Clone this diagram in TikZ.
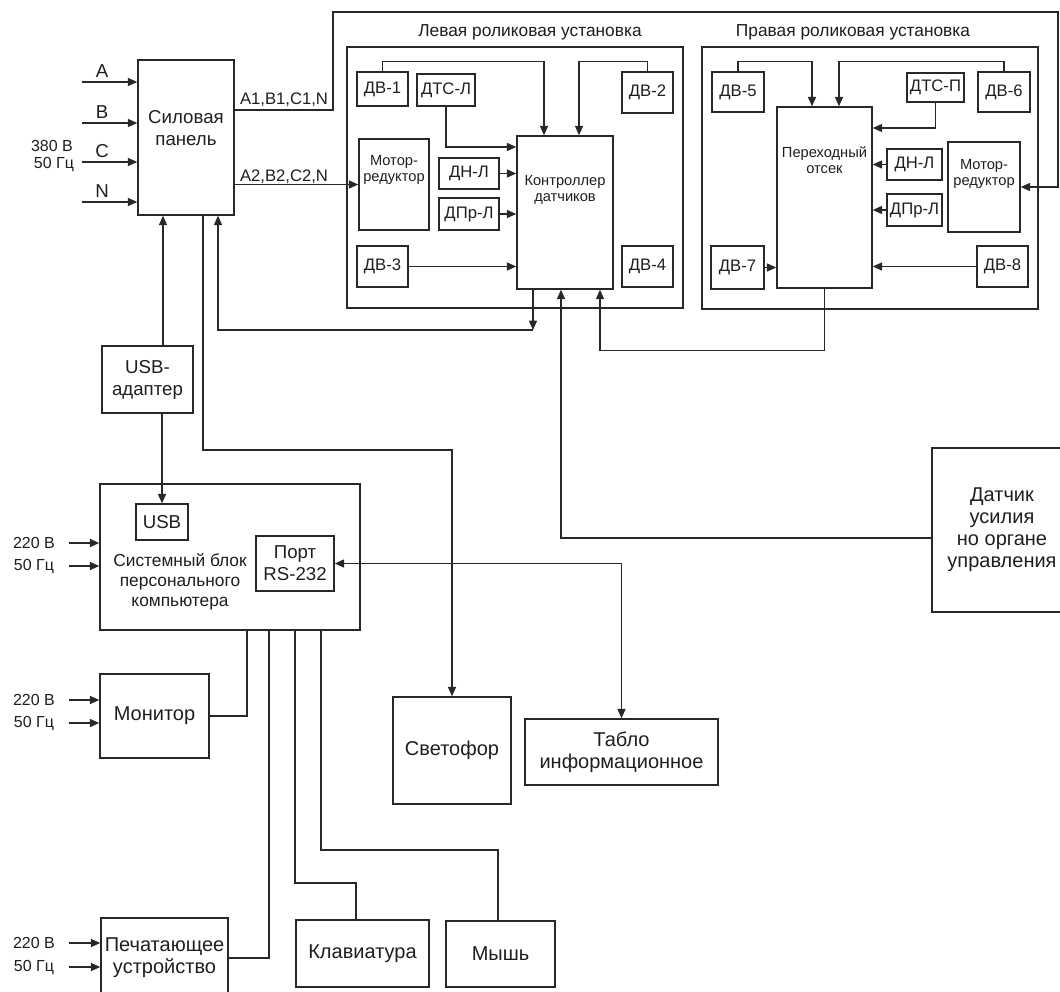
\documentclass[tikz,border=0pt]{standalone}
\usepackage{fontspec}
\setmainfont{Liberation Sans}
\usepackage{tikz}
\usetikzlibrary{arrows.meta,calc,positioning}
\definecolor{wiregrey}{RGB}{40,40,40}
\definecolor{textgrey}{RGB}{30,30,30}
\tikzset{
  blk/.style 2 args={draw=wiregrey,line width=1.1pt,inner sep=1pt,align=center,
    text=textgrey,minimum width=#1*0.75pt,minimum height=#2*0.75pt,
    font=\fontsize{14}{16.5}\selectfont},
  big/.style={font=\fontsize{15}{16.5}\selectfont},
  sensor/.style={font=\fontsize{12.5}{14}\selectfont},
  inner/.style={font=\fontsize{11}{12.5}\selectfont,align=center,inner sep=0pt,text=textgrey},
  systext/.style={font=\fontsize{13}{15}\selectfont,align=center,inner sep=0pt,text=textgrey},
  txt/.style={font=\fontsize{14}{16.5}\selectfont,align=center,inner sep=0pt,text=textgrey},
  title/.style={font=\fontsize{13}{15}\selectfont,inner sep=0pt,text=textgrey},
  mains/.style={font=\fontsize{12}{14}\selectfont,inner sep=0pt,text=textgrey},
  phase/.style={font=\fontsize{14}{16}\selectfont,inner sep=0pt,text=textgrey},
  bus/.style={font=\fontsize{12.5}{14}\selectfont,inner sep=0pt,text=textgrey},
  flow/.style={-{Triangle[length=7pt,width=6pt]},draw=wiregrey,line width=1.1pt},
  both/.style={{Triangle[length=7pt,width=6pt]}-{Triangle[length=7pt,width=6pt]},
    draw=wiregrey,line width=1.1pt},
  wire/.style={draw=wiregrey,line width=1.1pt}
}

\begin{document}
\begin{tikzpicture}[x=0.75pt,y=-0.75pt]
  \useasboundingbox (0,0) rectangle (1060,992);
  \clip (0,0) rectangle (1060,992);

  % power panel
  \node[blk={96}{155}] (silov) at (186,137.5) {};
  \node[txt] (silovtxt) at (186,128) {Силовая\\панель};
  \foreach \n/\y/\t in {inA/82/A,inB/123/B,inC/162/C,inN/202/N}{
    \coordinate (\n) at (82,\y);
    \draw[flow] (\n) -- (\n -| silov.west);
    \node[phase] (lbl\n) at ($(\n)+(20,-11)$) {\t};
  }
  \node[mains] (v380) at (52,146) {380 В};
  \node[mains] (f380) at (54,165) {50 Гц};
  \node[bus] (busone) at (284,100) {A1,B1,C1,N};
  \node[bus] (bustwo) at (284,177) {A2,B2,C2,N};

  % left roller unit
  \node[blk={336}{261}] (unitL) at (515,177.5) {};
  \node[title] (unitLtitle) at (530,32) {Левая роликовая установка};
  \node[blk={51}{34},sensor] (dv1) at (382.5,89) {ДВ-1};
  \node[blk={58}{32},sensor] (dtsL) at (446,90) {ДТС-Л};
  \node[blk={51}{41},sensor] (dv2) at (647.5,92.5) {ДВ-2};
  \node[blk={70}{91}] (motL) at (394,184.5) {};
  \node[inner] (motLtxt) at (394,170) {Мотор-\\редуктор};
  \node[blk={60}{31},sensor] (dnL) at (469,173.5) {ДН-Л};
  \node[blk={60}{32},sensor] (dprL) at (469,214) {ДПр-Л};
  \node[blk={96}{153}] (ctrl) at (565,212.5) {};
  \node[inner] (ctrltxt) at (565,190) {Контроллер\\датчиков};
  \node[blk={51}{41},sensor] (dv3) at (382.5,266.5) {ДВ-3};
  \node[blk={51}{41},sensor] (dv4) at (647.5,266.5) {ДВ-4};

  % right roller unit
  \node[blk={336}{262}] (unitR) at (870,178) {};
  \node[title] (unitRtitle) at (853,32) {Правая роликовая установка};
  \node[blk={52}{40},sensor] (dv5) at (738,92) {ДВ-5};
  \node[blk={57}{29},sensor] (dtsP) at (935.5,87.5) {ДТС-П};
  \node[blk={52}{40},sensor] (dv6) at (1004,92) {ДВ-6};
  \node[blk={95}{181}] (perekh) at (824.5,197.5) {};
  \node[inner] (perekhtxt) at (824.5,160) {Переходный\\отсек};
  \node[blk={55}{31},sensor] (dnR) at (914.5,164.5) {ДН-Л};
  \node[blk={55}{32},sensor] (dprR) at (914.5,210) {ДПр-Л};
  \node[blk={72}{90}] (motR) at (984,187) {};
  \node[inner] (motRtxt) at (984,174) {Мотор-\\редуктор};
  \node[blk={53}{43},sensor] (dv7) at (737.5,267.5) {ДВ-7};
  \node[blk={51}{41},sensor] (dv8) at (1002.5,266.5) {ДВ-8};

  % computer and periphery
  \node[blk={91}{67}] (usbad) at (147.5,379.5) {USB-\\адаптер};
  \node[blk={260}{146}] (sys) at (230,557) {};
  \node[systext] (systxt) at (180,582) {Системный блок\\персонального\\компьютера};
  \node[blk={52}{36}] (usb) at (162,522) {USB};
  \node[blk={78}{55}] (port) at (295,563.5) {Порт\\RS-232};
  \node[blk={109}{84},big] (monitor) at (154.5,716) {Монитор};
  \node[blk={127}{80},big] (printer) at (164.5,958) {Печатающее\\устройство};
  \node[blk={133}{67},big] (klav) at (362.5,953.5) {Клавиатура};
  \node[blk={109}{66},big] (mouse) at (500.5,954) {Мышь};
  \node[blk={118}{107},big] (svet) at (452,750.5) {Светофор};
  \node[blk={193}{66},big] (tablo) at (621.5,752) {Табло\\информационное};
  \node[blk={140}{164},big] (force) at (1002,530) {Датчик\\усилия\\но органе\\управления};

  \foreach \n/\y/\tgt/\t in {pcA/543/sys/220 В,pcB/566/sys/50 Гц,
      monA/700/monitor/220 В,monB/723/monitor/50 Гц,
      prA/943/printer/220 В,prB/967/printer/50 Гц}{
    \coordinate (\n) at (69,\y);
    \draw[flow] (\n) -- (\n -| \tgt.west);
    \node[mains] (lbl\n) at ($(\n)+(-35,0)$) {\t};
  }

  % power lines
  \draw[flow] (silov.east |- 0,110) -| (333,12) -| (1058,187) -- (motR.east);
  \draw[flow] (silov.east |- motL.west) -- (motL.west);

  % sensors to controller
  \draw[flow] (dv1.north) -- ++(0,-10) -| (ctrl.north -| 544,0);
  \draw[flow] (dv2.north) -- ++(0,-10) -| (ctrl.north -| 579,0);
  \draw[flow] (dtsL.south) |- (ctrl.west |- 0,147);
  \draw[flow] (dnL.east) -- (dnL.east -| ctrl.west);
  \draw[flow] (dprL.east) -- (dprL.east -| ctrl.west);
  \draw[flow] (dv3.east) -- (dv3.east -| ctrl.west);

  \draw[flow] (dv5.north) -- ++(0,-10) -| (perekh.north -| 812,0);
  \draw[flow] (dv6.north) -- ++(0,-10) -| (perekh.north -| 839,0);
  \draw[flow] (dtsP.south) |- (perekh.east |- 0,128);
  \draw[flow] (dnR.west) -- (dnR.west -| perekh.east);
  \draw[flow] (dprR.west) -- (dprR.west -| perekh.east);
  \draw[flow] (dv8.west) -- (dv8.west -| perekh.east);
  \draw[flow] (dv7.east) -- (dv7.east -| perekh.west);

  \draw[flow] (perekh.south) -- ++(0,62) -| (ctrl.south -| 600,0);
  \draw[flow] (force.west |- 0,538) -| (ctrl.south -| 561,0);
  \coordinate (jct) at (533,330);
  \draw[flow] (ctrl.south -| jct) -- (jct);
  \draw[flow] (jct) -| (silov.south -| 218,0);

  % computer links
  \draw[flow] (usbad.north -| 163,0) -- (silov.south -| 163,0);
  \draw[flow] (usbad.south -| usb.north) -- (usb.north);
  \draw[flow] (silov.south -| 203,0) |- (svet.north |- 0,450) -- (svet.north);
  \draw[both] (port.east) -| (tablo.north);
  \draw[wire] (sys.south -| 247,0) |- (monitor.east);
  \draw[wire] (sys.south -| 269,0) |- (printer.east);
  \draw[wire] (sys.south -| 295,0) |- (356,883) -- (klav.north -| 356,0);
  \draw[wire] (sys.south -| 321,0) |- (498,850) -- (mouse.north -| 498,0);
\end{tikzpicture}
\end{document}
